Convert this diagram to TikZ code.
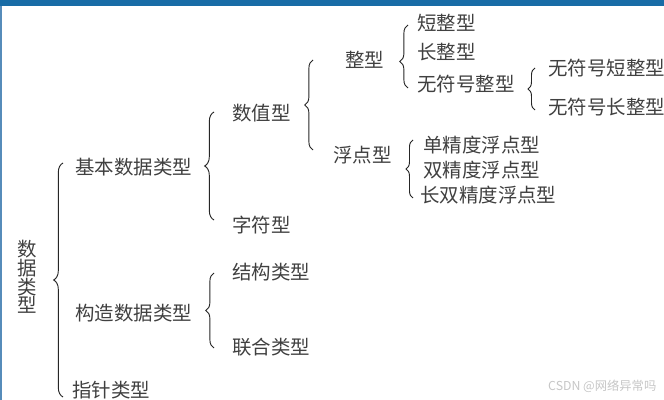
\documentclass[tikz,border=0pt]{standalone}
\usepackage{fontspec}
\usepackage{xcolor}
\usetikzlibrary{decorations.pathreplacing}
\newfontfamily\cjk{Noto Sans CJK SC}
\definecolor{barblue}{RGB}{24,108,166}
\definecolor{edgeblue}{RGB}{86,140,186}

\begin{document}
\begin{tikzpicture}[x=0.03cm, y=-0.03cm, font=\cjk\fontsize{16.6}{18}\selectfont]
\tikzset{
  item/.style={anchor=west, inner sep=0pt, text=black!75},
  brace/.style={decorate, decoration={brace, amplitude=#1}, draw=black!85, line width=0.8pt},
  brace/.default=7pt
}
\useasboundingbox (0,0) rectangle (664,400);
% frame of the screenshot
\fill[barblue] (0,0) rectangle (664,6);
\fill[edgeblue] (0,6) rectangle (2,400);

% root
\node[inner sep=0pt, text=black!75, align=center, font=\cjk\fontsize{16.6}{15.2}\selectfont] (root) at (27,277) {数\\据\\类\\型};

% level 1
\node[item] (jiben)   at (75,167) {基本数据类型};
\node[item] (gouzao)  at (75,313) {构造数据类型};
\node[item] (zhizhen) at (72,390) {指针类型};

% level 2
\node[item] (shuzhi) at (232,113) {数值型};
\node[item] (zifu)   at (232,225) {字符型};
\node[item] (jiegou) at (232,272) {结构类型};
\node[item] (lianhe) at (232,347) {联合类型};

% level 3
\node[item] (zheng) at (345,60)  {整型};
\node[item] (fudian) at (333,155) {浮点型};

% level 4
\node[item] (duan)    at (417,23)  {短整型};
\node[item] (chang)   at (417,52)  {长整型};
\node[item] (wufuhao) at (417,84)  {无符号整型};
\node[item] (danjd)   at (423,145) {单精度浮点型};
\node[item] (shuangjd) at (423,170) {双精度浮点型};
\node[item] (changsjd) at (420,195) {长双精度浮点型};

% level 5
\node[item] (wfduan)  at (548,68)  {无符号短整型};
\node[item] (wfchang) at (548,107) {无符号长整型};

% braces
\coordinate (rootB) at (63,397);   \coordinate (rootT) at (63,163);
\coordinate (jibenB) at (214,220); \coordinate (jibenT) at (214,112);
\coordinate (gouzaoB) at (214,348); \coordinate (gouzaoT) at (214,273);
\coordinate (shuzhiB) at (313,150); \coordinate (shuzhiT) at (313,60);
\coordinate (zhengB) at (408,88);  \coordinate (zhengT) at (408,25);
\coordinate (fudianB) at (413,198); \coordinate (fudianT) at (413,140);
\coordinate (wufuhaoB) at (535,110); \coordinate (wufuhaoT) at (535,68);

\draw[brace=8pt] (rootB) -- (rootT);
\draw[brace=8pt] (jibenB) -- (jibenT);
\draw[brace] (gouzaoB) -- (gouzaoT);
\draw[brace] (shuzhiB) -- (shuzhiT);
\draw[brace, decoration={aspect=0.42}] (zhengB) -- (zhengT);
\draw[brace=6pt] (fudianB) -- (fudianT);
\draw[brace=6pt] (wufuhaoB) -- (wufuhaoT);

% watermark
\node[anchor=west, inner sep=0pt, text=gray!45, font=\cjk\fontsize{10.5}{11}\selectfont] (mark) at (548,386) {CSDN @网络异常吗};
\end{tikzpicture}
\end{document}
